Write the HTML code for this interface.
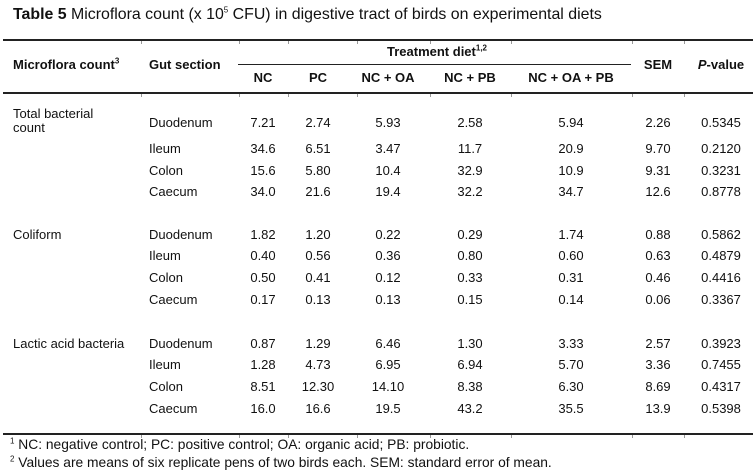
<!DOCTYPE html>
<html><head><meta charset="utf-8"><style>
body{margin:0;width:754px;height:475px;background:#fff;position:relative;overflow:hidden;font-family:"Liberation Sans",Arial,sans-serif;color:#111}
.t{position:absolute;white-space:nowrap;font-size:13px;line-height:14px}
.c{transform:translateX(-50%)}
.b{font-weight:bold}
.r{position:absolute;height:1.5px;background:#222}
.k{position:absolute;width:1px;height:3px;background:#999}
sup{font-size:8px;line-height:0}
</style></head><body>
<div class="t" style="left:13px;top:7px;font-size:15.9px;line-height:16px"><b>Table 5</b> Microflora count (x 10<sup>5</sup> CFU) in digestive tract of birds on experimental diets</div>
<div class="r" style="left:3px;width:750px;top:39px"></div>
<div class="r" style="left:238px;width:393px;top:64px;height:1px"></div>
<div class="r" style="left:3px;width:750px;top:92px"></div>
<div class="r" style="left:3px;width:750px;top:433px"></div>
<div id="ticks"></div>
<div class="t b" style="left:13px;top:58px">Microflora count<sup>3</sup></div>
<div class="t b" style="left:149px;top:58px">Gut section</div>
<div class="t b c" style="left:437px;top:45px">Treatment diet<sup>1,2</sup></div>
<div class="t b c" style="left:658px;top:58px">SEM</div>
<div class="t b c" style="left:721px;top:58px"><i>P</i>-value</div>
<div id="tbl"></div>
<div class="t" style="left:10px;top:437px;font-size:13.8px;line-height:15px"><sup>1</sup> NC: negative control; PC: positive control; OA: organic acid; PB: probiotic.</div>
<div class="t" style="left:10px;top:455px;font-size:13.8px;line-height:15px"><sup>2</sup> Values are means of six replicate pens of two birds each. SEM: standard error of mean.</div>
<script>
const diets=["NC","PC","NC + OA","NC + PB","NC + OA + PB"];
const groups=["Total bacterial count","Coliform","Lactic acid bacteria"];
const sections=["Duodenum","Ileum","Colon","Caecum"];
const totalVals=[["7.21","2.74","5.93","2.58","5.94","2.26","0.5345"],["34.6","6.51","3.47","11.7","20.9","9.70","0.2120"],["15.6","5.80","10.4","32.9","10.9","9.31","0.3231"],["34.0","21.6","19.4","32.2","34.7","12.6","0.8778"]];
const coliVals=[["1.82","1.20","0.22","0.29","1.74","0.88","0.5862"],["0.40","0.56","0.36","0.80","0.60","0.63","0.4879"],["0.50","0.41","0.12","0.33","0.31","0.46","0.4416"],["0.17","0.13","0.13","0.15","0.14","0.06","0.3367"]];
const lacVals=[["0.87","1.29","6.46","1.30","3.33","2.57","0.3923"],["1.28","4.73","6.95","6.94","5.70","3.36","0.7455"],["8.51","12.30","14.10","8.38","6.30","8.69","0.4317"],["16.0","16.6","19.5","43.2","35.5","13.9","0.5398"]];
const all=[totalVals,coliVals,lacVals];
const colX=[263,318,388,470,571,658,721];
const rowY=[[123,149,171,192],[235,256,278,300],[344,365,387,409]];
const tickX=[141,239,288,357,430,511,632,684];
const tk=document.getElementById('ticks');
[41,94,435].forEach(y=>tickX.forEach(x=>{const d=document.createElement('div');d.className='k';d.style.left=x+'px';d.style.top=y+'px';


tk.appendChild(d);}));
const host=document.getElementById('tbl');
function mk(txt,x,y,cls){const d=document.createElement('div');d.className='t '+cls;d.style.left=x+'px';d.style.top=(y-7)+'px';d.innerHTML=txt;host.appendChild(d);return d;}
diets.forEach((d,i)=>{const e=mk(d,colX[i],78,'b c');

});
groups.forEach((g,gi)=>{
 const label=gi===0?'Total bacterial<br>count':g;
 const e=mk(label,13,gi===0?114:rowY[gi][0],'');
 
 
 sections.forEach((s,si)=>{
  const y=rowY[gi][si];
  const l=mk(s,149,y,'');
  
  
  all[gi][si].forEach((v,ci)=>{
   const c=mk(v,colX[ci],y,'c');
   
   
  });
 });
});
</script>
</body></html>
